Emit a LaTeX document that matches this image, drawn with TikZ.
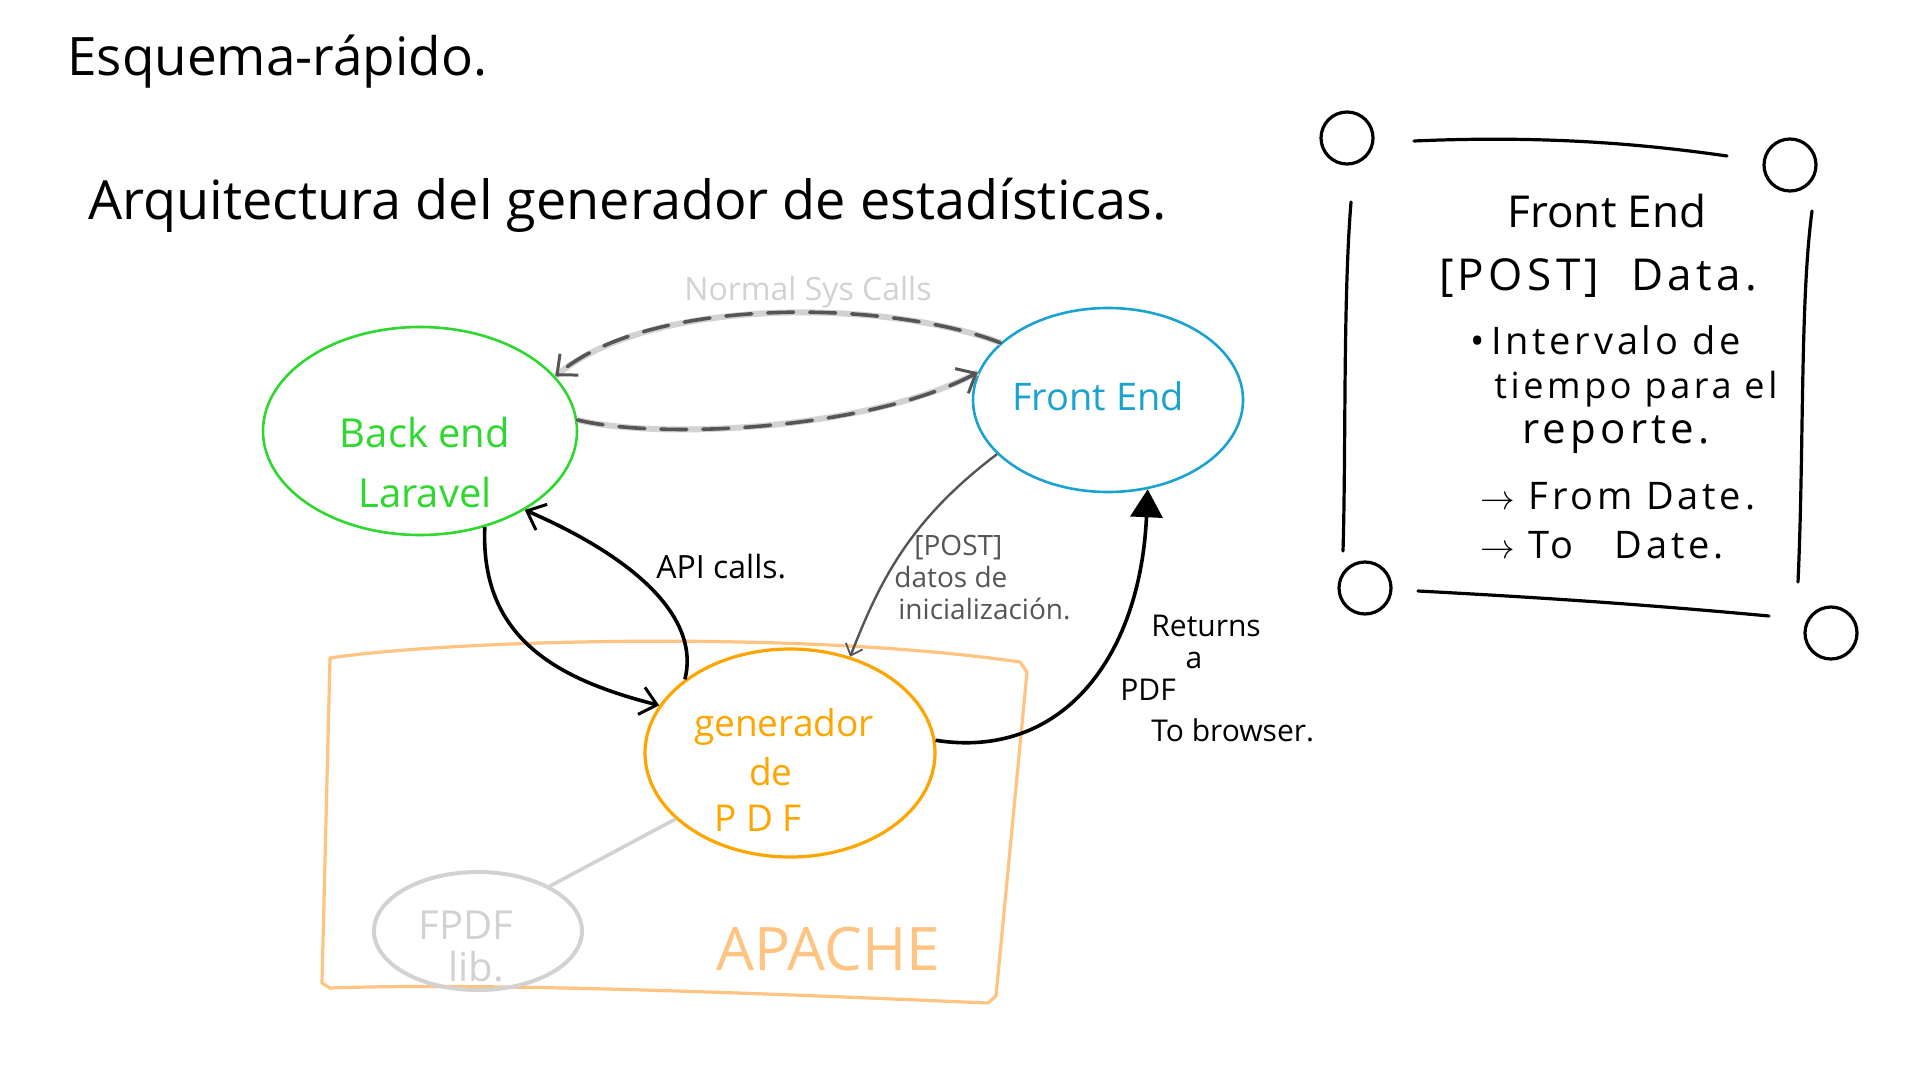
\documentclass[tikz,border=0pt]{standalone}
\usepackage{fontspec}
\setmainfont{Open Sans}
\newfontfamily\widefont[LetterSpace=10]{Open Sans}
\usetikzlibrary{shapes.geometric,arrows.meta}
\definecolor{bgreen}{HTML}{2ED82E}
\definecolor{fblue}{HTML}{1BA3CF}
\definecolor{gorange}{HTML}{FFA500}
\definecolor{aorange}{HTML}{FFC382}
\definecolor{lgray}{HTML}{D2D2D2}
\definecolor{dgray}{HTML}{555555}
\begin{document}
\begin{tikzpicture}[x=0.5pt,y=-0.5pt,
  bubble/.style={ellipse, draw, line width=1.3pt, inner sep=0pt},
  lbl/.style={inner sep=0pt, align=center},
  barb/.style={-{Straight Barb[length=8pt,width=14pt,line width=1.5pt]}},
  thinbarb/.style={-{Straight Barb[length=5pt,width=9pt,line width=0.9pt]}},
  sysline/.style={lgray, line width=3pt},
  sysdash/.style={dgray, line width=1.8pt, dash pattern=on 13pt off 8pt, line cap=round},
  black arrow/.style={black, line width=1.8pt},
  notetext/.style={inner sep=0pt, font=\widefont\fontsize{19}{22}\selectfont},
  rettext/.style={inner sep=0pt, anchor=west, font=\fontsize{15}{18}\selectfont},
  gentext/.style={inner sep=0pt, text=gorange, font=\fontsize{18.5}{22}\selectfont},
  notebox/.style={black, line width=1.6pt, line cap=round}
]
\useasboundingbox[fill=white] (0,0) rectangle (1920,1080);

% titles
\node[lbl, anchor=west, font=\fontsize{26.5}{30}\selectfont] (t1) at (67,62) {Esquema-rápido.};
\node[lbl, anchor=west, font=\fontsize{27}{31}\selectfont] (t2) at (88,205) {Arquitectura del generador de estadísticas.};

% main bubbles
\node[bubble, draw=bgreen, minimum width=157pt, minimum height=104pt] (be) at (420,431) {};
\node[lbl, text=bgreen, font=\fontsize{20}{30}\selectfont] (belbl) at (425,462) {Back end\\Laravel};

\node[bubble, draw=fblue, minimum width=135pt, minimum height=92pt] (fe) at (1108,400) {};
\node[lbl, text=fblue, font=\fontsize{19}{23}\selectfont] (felbl) at (1098,396) {Front End};

% apache box
\draw[aorange, line width=1.6pt, line join=round]
  (330,658) .. controls (450,640) and (800,630) .. (1020,662)
  -- (1027,672) -- (996,996) -- (988,1003)
  .. controls (800,995) and (500,982) .. (330,988) -- (322,983) -- cycle;
\node[lbl, text=aorange, font=\fontsize{30}{34}\selectfont] (apache) at (828,949) {APACHE};

\node[bubble, draw=gorange, line width=1.6pt, minimum width=145pt, minimum height=104pt] (gen) at (790,753) {};
\node[gentext] (gen1) at (784,727) {generador};
\node[gentext] (gen2) at (771,772) {de};
\node[gentext] (gen3) at (758,818) {P D F};

\node[bubble, draw=lgray, line width=2pt, minimum width=104pt, minimum height=59pt] (fpdf) at (478,931) {};
\node[lbl, text=lgray, font=\fontsize{20}{21}\selectfont] (fpdflbl) at (466,946) {FPDF\\\hspace*{10pt}lib.};

% normal sys calls
\node[lbl, text=lgray, font=\fontsize{16}{18}\selectfont] (sys) at (808,292) {Normal Sys Calls};
\draw[sysline] (fe.152) .. controls (890,300) and (650,295) .. (be.22);
\draw[sysdash, barb] (fe.152) .. controls (890,300) and (650,295) .. (be.22);
\draw[sysline] (be.4) .. controls (660,440) and (870,430) .. (fe.168);
\draw[sysdash, barb] (be.4) .. controls (660,440) and (870,430) .. (fe.168);

% back end -> generador
\draw[black arrow, barb] (be.-56) .. controls (480,640) and (560,680) .. (gen.160);
% generador -> back end (API calls)
\draw[black arrow, barb] (gen.145) .. controls (700,620) and (640,560) .. (be.-37);
\node[lbl, anchor=west, font=\fontsize{16}{18}\selectfont] (api) at (656,567) {API calls.};

% front end -> generador (POST)
\draw[dgray, line width=1.2pt, thinbarb] (fe.206) .. controls (910,520) and (880,580) .. (gen.58);
\node[lbl, anchor=west, text=dgray, font=\fontsize{14}{16}\selectfont, align=left] (post) at (894,578)
  {\hspace*{10pt}[POST]\\datos de\\\hspace*{2pt}inicialización.};

% generador -> front end (returns PDF)
\draw[black arrow, -{Triangle[length=14pt,width=16pt]}] (gen.5) .. controls (1060,760) and (1140,660) .. (fe.-66);
\node[rettext] (ret1) at (1151,626) {Returns};
\node[rettext, anchor=center] (ret2) at (1194,660) {a};
\node[rettext] (ret3) at (1120,690) {PDF};
\node[rettext] (ret4) at (1151,730) {To browser.};

% gen -- fpdf
\draw[lgray, line width=1.8pt] (gen.210) -- (fpdf.32);

% note box
\draw[notebox] (1347,138) circle[radius=13pt];
\draw[notebox] (1790,165) circle[radius=13pt];
\draw[notebox] (1365,588) circle[radius=13pt];
\draw[notebox] (1831,633) circle[radius=13pt];
\draw[notebox] (1414,141) .. controls (1550,135) and (1650,145) .. (1727,156);
\draw[notebox] (1418,591) .. controls (1550,598) and (1650,605) .. (1769,616);
\draw[notebox] (1351,202) .. controls (1343,300) and (1346,450) .. (1343,551);
\draw[notebox] (1812,211) .. controls (1800,300) and (1804,450) .. (1798,582);

\node[notetext, font=\fontsize{22}{26}\selectfont] (n1) at (1607,211) {Front End};
\node[notetext, font=\widefont\fontsize{22}{26}\selectfont] (n2) at (1598,278) {[POST]\ \ Data.};
\node[notetext, anchor=west] (n3) at (1470,340) {•\,Intervalo de};
\node[notetext, anchor=west, font=\widefont\fontsize{18}{22}\selectfont] (n4) at (1494,389) {tiempo para el};
\node[notetext, anchor=west, font=\widefont\fontsize{21}{24}\selectfont] (n5) at (1522,435) {reporte.};
\node[notetext, anchor=west] (n6) at (1480,496) {$\rightarrow$ From Date.};
\node[notetext, anchor=west] (n7) at (1480,545) {$\rightarrow$ To\ \ \ Date.};
\end{tikzpicture}
\end{document}
